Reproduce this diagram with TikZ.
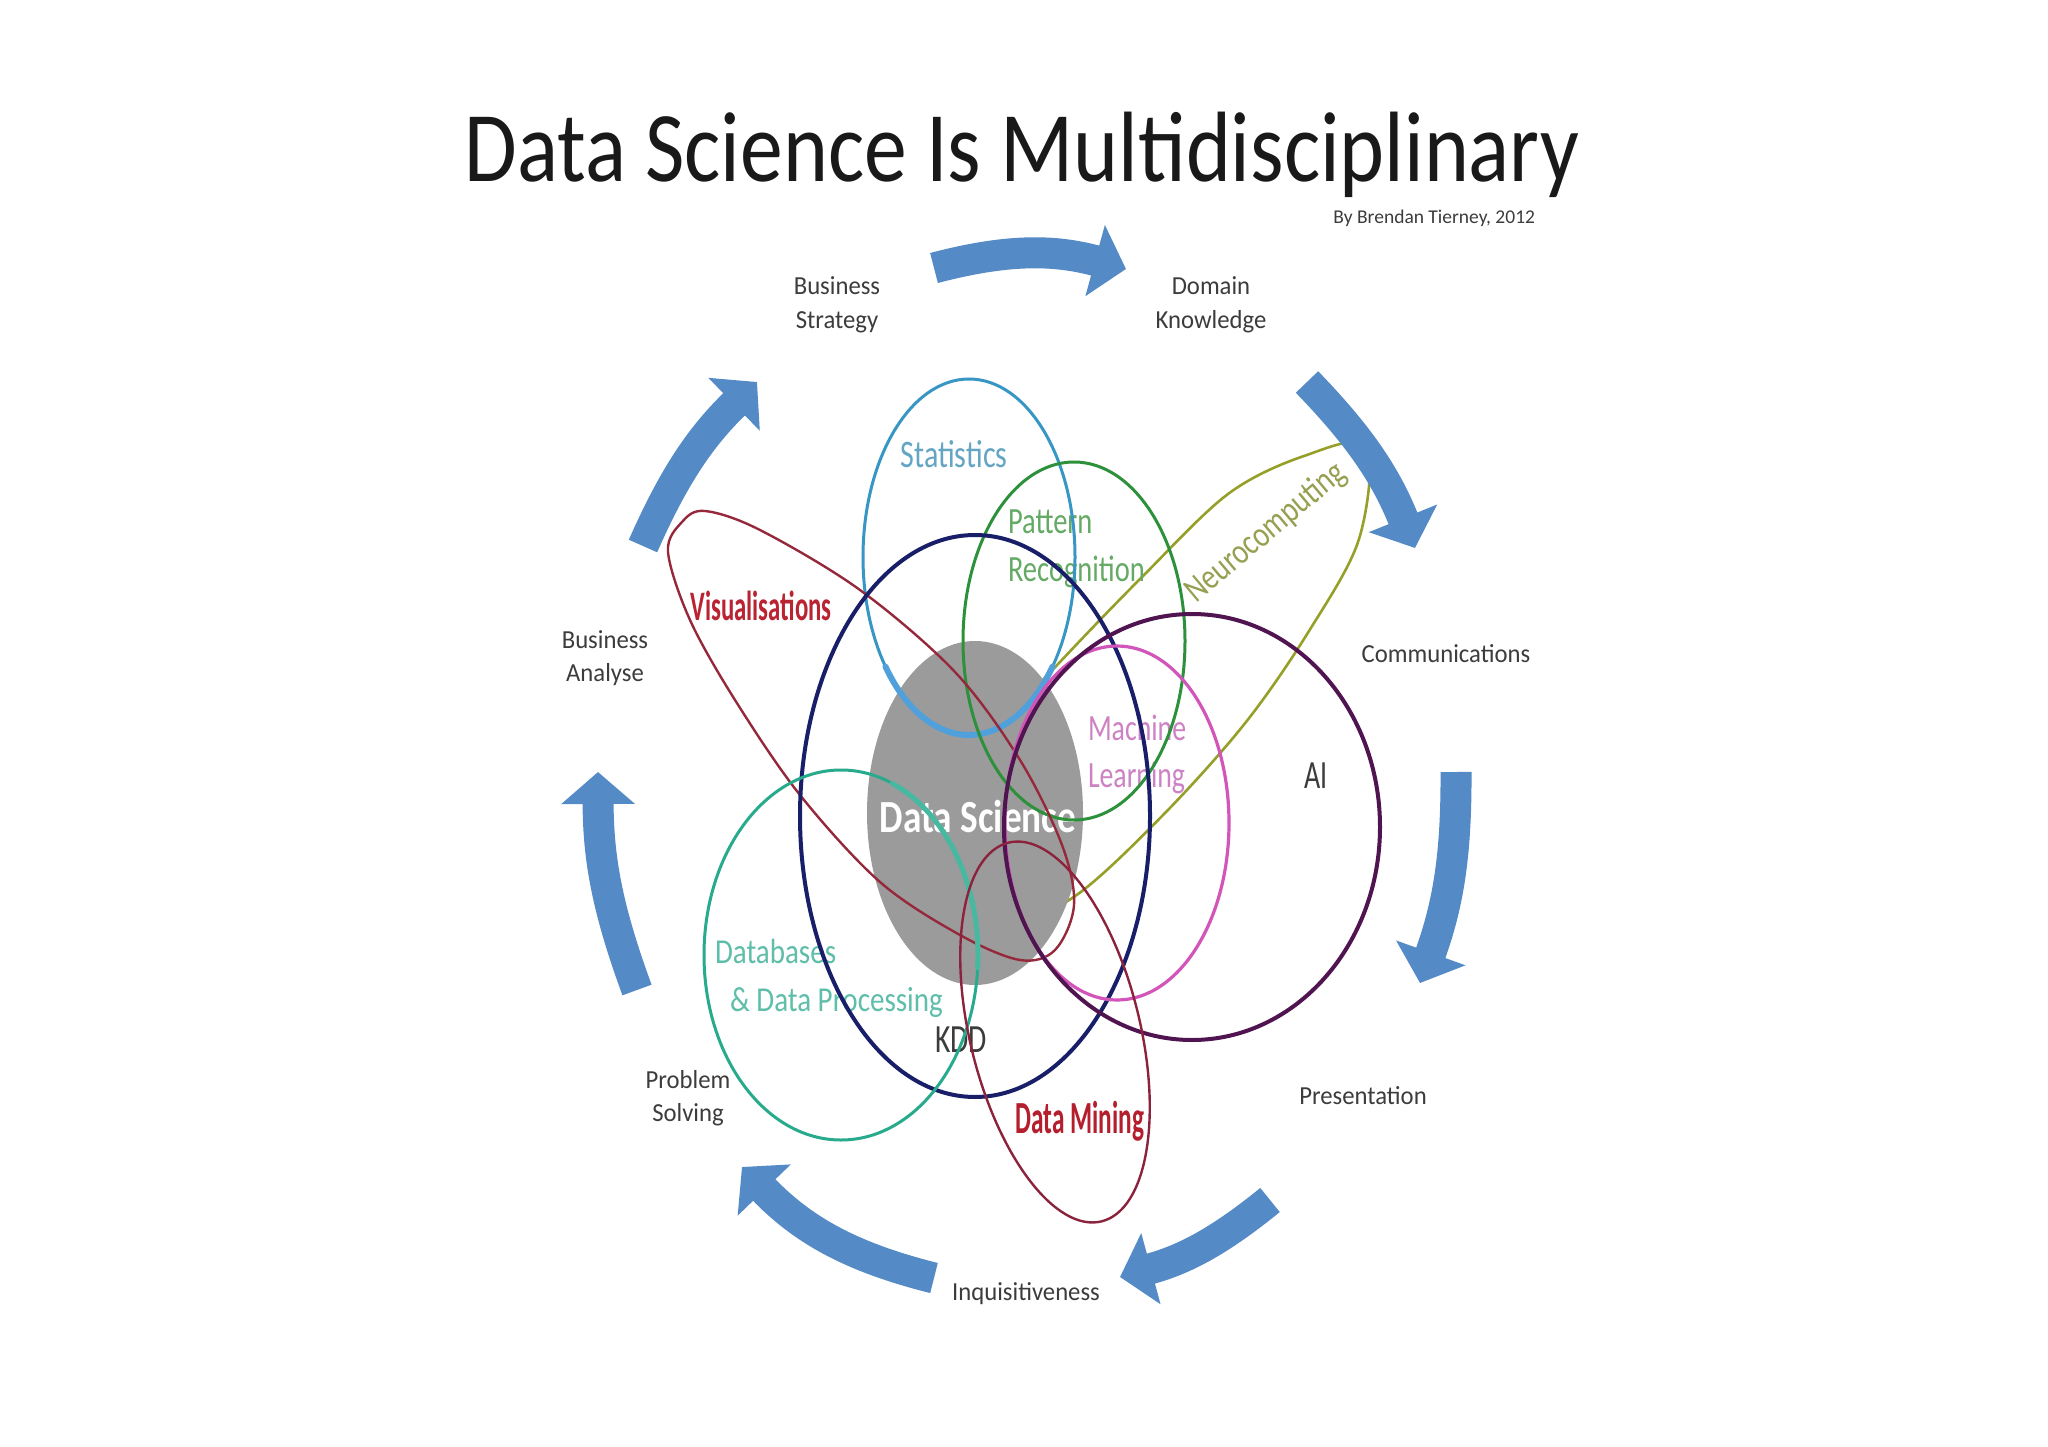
\documentclass[tikz,border=0pt]{standalone}
\usepackage{fontspec}
\setmainfont{Carlito}
\usetikzlibrary{shapes.geometric,arrows.meta}
\definecolor{arrowblue}{RGB}{84,138,198}
\definecolor{lbl}{RGB}{60,60,60}
\definecolor{cstat}{RGB}{55,150,195}
\definecolor{hstat}{RGB}{80,160,220}
\definecolor{tstat}{RGB}{100,165,195}
\definecolor{cpat}{RGB}{45,145,60}
\definecolor{tpat}{RGB}{100,170,100}
\definecolor{cvis}{RGB}{150,40,60}
\definecolor{tvis}{RGB}{185,35,50}
\definecolor{cneu}{RGB}{150,160,40}
\definecolor{tneu}{RGB}{150,160,80}
\definecolor{cml}{RGB}{210,85,185}
\definecolor{tml}{RGB}{205,130,195}
\definecolor{cai}{RGB}{80,20,80}
\definecolor{ckdd}{RGB}{25,30,105}
\definecolor{cdb}{RGB}{40,170,140}
\definecolor{hdb}{RGB}{70,185,160}
\definecolor{tdb}{RGB}{95,190,170}
\definecolor{cdm}{RGB}{140,35,60}
\definecolor{tdm}{RGB}{180,30,45}
\definecolor{dsgray}{RGB}{155,155,155}
\definecolor{titlecol}{RGB}{25,25,25}
\newcommand\sx[2]{\scalebox{#1}[1]{#2}}
\newcommand\fs[1]{\fontsize{#1}{#1}\selectfont}
\begin{document}
\begin{tikzpicture}[x=1pt,y=1pt,
  venn/.style={ellipse, inner sep=0pt, outer sep=0pt},
  txt/.style={inner sep=0pt, outer sep=0pt},
  outerlbl/.style={txt, text=lbl, anchor=base, font={\fs{26}}},
  cyc/.style={draw=arrowblue, line width=31pt, -{Triangle[width=72pt,length=32pt]}}]
\useasboundingbox (0,0) rectangle (2048,-1447);
\fill[white] (0,0) rectangle (2048,-1447);

% title
\node[txt, anchor=base, text=titlecol] (title) at (1022,-182) {\fs{100}\sx{0.856}{Data Science Is Multidisciplinary}};
\node[txt, anchor=base east, text=lbl] (author) at (1535,-224) {\fs{19.5}By Brendan Tierney, 2012};

% neurocomputing (under the disk)
\draw[cneu, line width=2.6pt] plot[smooth cycle, tension=0.55] coordinates {(1366,-447) (1304,-456) (1228,-494) (1142,-577) (1059,-663) (971,-759) (924,-839) (928,-920) (1009,-924) (1078,-894) (1166,-812) (1246,-722) (1309,-631) (1359,-539)};

% data science disk
\node[venn, fill=dsgray, minimum width=216pt, minimum height=344pt] (dsdisk) at (975,-813) {};

% inner labels
\node[txt, anchor=base, text=tstat] (lstat) at (954,-467) {\fs{39}\sx{0.77}{Statistics}};
\node[txt, anchor=base west, text=tpat] (lpat1) at (1008,-533) {\fs{37}\sx{0.77}{Pattern}};
\node[txt, anchor=base west, text=tpat] (lpat2) at (1008,-581) {\fs{37}\sx{0.77}{Recognition}};
\node[txt, anchor=base, text=tvis] (lvis) at (761,-620) {\fs{42}\bfseries\sx{0.59}{Visualisations}};
\node[txt, anchor=base, rotate=40, text=tneu] (lneu) at (1272,-540) {\fs{36}\sx{0.80}{Neurocomputing}};
\node[txt, anchor=base west, text=tml] (lml1) at (1088,-740) {\fs{37}\sx{0.75}{Machine}};
\node[txt, anchor=base west, text=tml] (lml2) at (1088,-787) {\fs{37}\sx{0.75}{Learning}};
\node[txt, anchor=base, text=lbl] (lai) at (1316,-788) {\fs{40}\sx{0.7}{AI}};
\node[txt, anchor=base, text=white] (lds) at (978,-832) {\fs{46}\bfseries\sx{0.81}{Data Science}};
\node[txt, anchor=base west, text=tdb] (ldb1) at (715,-963) {\fs{35}\sx{0.83}{Databases}};
\node[txt, anchor=base west, text=tdb] (ldb2) at (730,-1011) {\fs{35}\sx{0.83}{\& Data Processing}};
\node[txt, anchor=base, text=lbl] (lkdd) at (961,-1052) {\fs{40}\sx{0.74}{KDD}};
\node[txt, anchor=base, text=tdm] (ldm) at (1080,-1133) {\fs{46}\bfseries\sx{0.55}{Data Mining}};

% ellipses
\node[venn, draw=cstat, line width=3pt, minimum width=212pt, minimum height=356pt] (estat) at (969,-557) {};
\draw[hstat, line width=6pt, line cap=round] (969,-557) ++(218:106 and 178) arc[start angle=218, end angle=322, x radius=106, y radius=178];
\node[venn, draw=cpat, line width=3pt, minimum width=222pt, minimum height=358pt] (epat) at (1074,-641) {};
\draw[cvis, line width=2.4pt] plot[smooth cycle, tension=0.55] coordinates {(668,-552) (682,-522) (705,-511) (760,-530) (860,-590) (955,-672) (1020,-760) (1062,-845) (1074,-905) (1055,-950) (1020,-960) (960,-935) (880,-882) (800,-795) (735,-700) (690,-620)};
\node[venn, draw=ckdd, line width=4pt, minimum width=350pt, minimum height=562pt] (ekdd) at (975,-816) {};
\node[venn, draw=cml, line width=3.2pt, minimum width=224pt, minimum height=354pt] (eml) at (1117,-823) {};
\node[venn, draw=cai, line width=4pt, minimum width=376pt, minimum height=426pt] (eai) at (1192,-827) {};
\node[venn, draw=cdb, line width=3pt, minimum width=274pt, minimum height=370pt] (edb) at (841,-955) {};
\draw[hdb, line width=5pt, line cap=round] (841,-955) ++(68:137 and 185) arc[start angle=68, end angle=-4, x radius=137, y radius=185];
\node[venn, draw=cdm, line width=2.4pt, minimum width=170pt, minimum height=390pt, rotate=13.8] (edm) at (1055,-1032) {};

% outer labels
\node[outerlbl] (bs1) at (837,-295) {\sx{0.95}{Business}};
\node[outerlbl] (bs2) at (837,-328) {\sx{0.95}{Strategy}};
\node[outerlbl] (dk1) at (1211,-295) {\sx{0.95}{Domain}};
\node[outerlbl] (dk2) at (1211,-328) {\sx{0.95}{Knowledge}};
\node[outerlbl] (com) at (1446,-662) {\sx{0.95}{Communications}};
\node[outerlbl] (pre) at (1363,-1104) {\sx{0.95}{Presentation}};
\node[outerlbl] (inq) at (1026,-1300) {\sx{0.95}{Inquisitiveness}};
\node[outerlbl] (ps1) at (688,-1088) {\sx{0.95}{Problem}};
\node[outerlbl] (ps2) at (688,-1121) {\sx{0.95}{Solving}};
\node[outerlbl] (ba1) at (605,-648) {\sx{0.95}{Business}};
\node[outerlbl] (ba2) at (605,-681) {\sx{0.95}{Analyse}};

% cycle arrows
\coordinate (a1s) at (934,-268);  \coordinate (a1e) at (1126,-269);
\coordinate (a2s) at (1307,-382); \coordinate (a2e) at (1415,-548);
\coordinate (a3s) at (1456,-772); \coordinate (a3e) at (1420,-983);
\coordinate (a4s) at (1270,-1200); \coordinate (a4e) at (1120,-1277);
\coordinate (a5s) at (934,-1278); \coordinate (a5e) at (742,-1167);
\coordinate (a6s) at (637,-990);  \coordinate (a6e) at (598,-772);
\coordinate (a7s) at (643,-546);  \coordinate (a7e) at (757,-382);
\draw[cyc] (a1s) to[bend left=15] (a1e);
\draw[cyc] (a2s) to[bend left=11] (a2e);
\draw[cyc] (a3s) to[bend left=10] (a3e);
\draw[cyc] (a4s) to[bend left=12] (a4e);
\draw[cyc] (a5s) to[bend left=16] (a5e);
\draw[cyc] (a6s) to[bend left=10] (a6e);
\draw[cyc] (a7s) to[bend left=11] (a7e);
\end{tikzpicture}
\end{document}
